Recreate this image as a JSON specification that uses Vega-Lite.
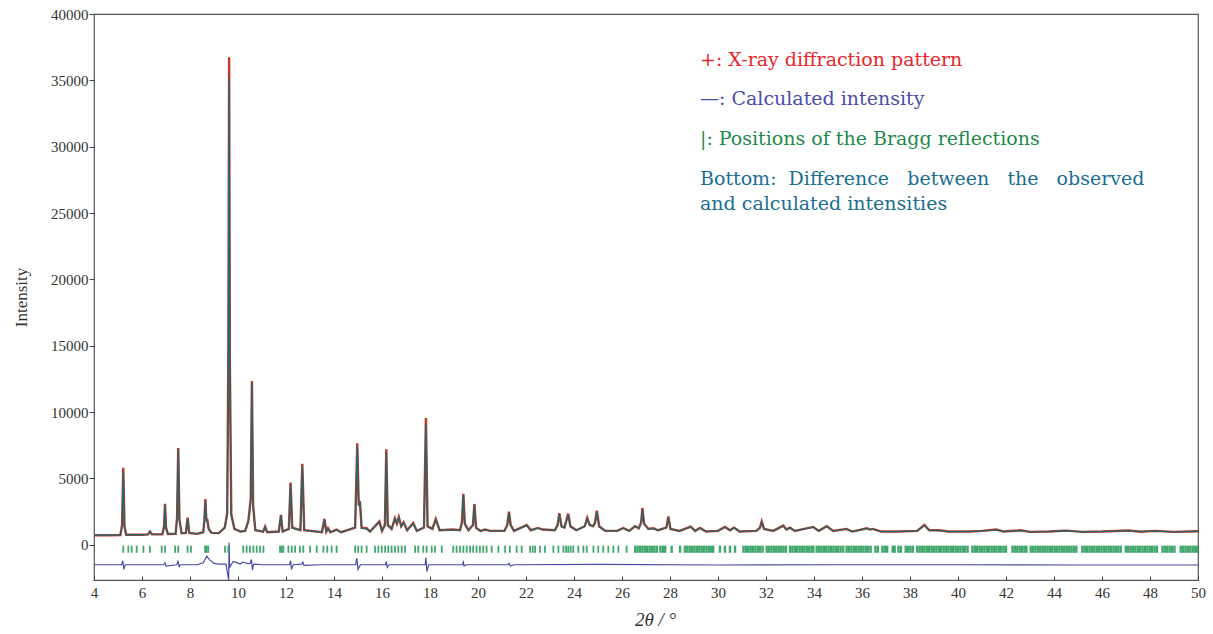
{
"$schema": "https://vega.github.io/schema/vega-lite/v6.json",
"width": 1104, "height": 566,
"autosize": {"type": "none"},
"padding": {"left": 94, "top": 14, "right": 15, "bottom": 54},
"background": "white",
"config": {"view": {"stroke": "#555", "strokeWidth": 1.2}, "font": "Liberation Serif"},
"datasets": {
"profile": [
{"t":4.0,"o":720,"c":720},{"t":4.6,"o":725,"c":725},{"t":5.10,"o":740,"c":740},{"t":5.17,"o":1500,"c":1450},{"t":5.22,"o":5800,"c":5500},{"t":5.27,"o":1400,"c":1350},{"t":5.34,"o":760,"c":760},{"t":5.6,"o":760,"c":760},{"t":6.0,"o":760,"c":760},{"t":6.25,"o":790,"c":790},{"t":6.33,"o":1000,"c":980},{"t":6.42,"o":790,"c":790},{"t":6.85,"o":800,"c":800},{"t":6.92,"o":1400,"c":1350},{"t":6.96,"o":3100,"c":3000},{"t":7.0,"o":1300,"c":1250},{"t":7.08,"o":820,"c":820},{"t":7.4,"o":830,"c":830},{"t":7.46,"o":2000,"c":1900},{"t":7.51,"o":7300,"c":7200},{"t":7.56,"o":1900,"c":1850},{"t":7.65,"o":870,"c":870},{"t":7.83,"o":900,"c":900},{"t":7.9,"o":2050,"c":2000},{"t":7.97,"o":900,"c":900},{"t":8.3,"o":830,"c":830},{"t":8.55,"o":950,"c":950},{"t":8.6,"o":1800,"c":1750},{"t":8.64,"o":3450,"c":3300},{"t":8.68,"o":1900,"c":1850},{"t":8.72,"o":1900,"c":1800},{"t":8.78,"o":1200,"c":1150},{"t":8.9,"o":900,"c":900},{"t":9.2,"o":880,"c":880},{"t":9.45,"o":1300,"c":1300},{"t":9.55,"o":2400,"c":2300},{"t":9.6,"o":15000,"c":14500},{"t":9.63,"o":36750,"c":35200},{"t":9.66,"o":14000,"c":13500},{"t":9.72,"o":2300,"c":2200},{"t":9.85,"o":1200,"c":1200},{"t":10.1,"o":1000,"c":1000},{"t":10.3,"o":1050,"c":1050},{"t":10.43,"o":1800,"c":1750},{"t":10.47,"o":2400,"c":2300},{"t":10.53,"o":3500,"c":3400},{"t":10.58,"o":12350,"c":12200},{"t":10.63,"o":3000,"c":2900},{"t":10.72,"o":1100,"c":1100},{"t":11.05,"o":1000,"c":1000},{"t":11.13,"o":1380,"c":1350},{"t":11.22,"o":950,"c":950},{"t":11.7,"o":1000,"c":1000},{"t":11.79,"o":2260,"c":2200},{"t":11.86,"o":1000,"c":1000},{"t":12.12,"o":1200,"c":1200},{"t":12.19,"o":4700,"c":4550},{"t":12.26,"o":1300,"c":1250},{"t":12.6,"o":1100,"c":1100},{"t":12.68,"o":6100,"c":5950},{"t":12.76,"o":1100,"c":1100},{"t":13.5,"o":950,"c":950},{"t":13.6,"o":1950,"c":1900},{"t":13.68,"o":1000,"c":1000},{"t":13.75,"o":1250,"c":1200},{"t":13.85,"o":950,"c":950},{"t":14.1,"o":1150,"c":1100},{"t":14.3,"o":950,"c":950},{"t":14.88,"o":1300,"c":1300},{"t":14.97,"o":7650,"c":7450},{"t":15.03,"o":3000,"c":2900},{"t":15.08,"o":3300,"c":3200},{"t":15.15,"o":1300,"c":1250},{"t":15.36,"o":1250,"c":1200},{"t":15.5,"o":1000,"c":1000},{"t":15.89,"o":1760,"c":1700},{"t":16.0,"o":1050,"c":1050},{"t":16.12,"o":1500,"c":1450},{"t":16.18,"o":7200,"c":7000},{"t":16.24,"o":1500,"c":1450},{"t":16.4,"o":1200,"c":1200},{"t":16.54,"o":2000,"c":1950},{"t":16.62,"o":1600,"c":1600},{"t":16.7,"o":2100,"c":2050},{"t":16.8,"o":1400,"c":1400},{"t":16.9,"o":1700,"c":1650},{"t":17.05,"o":1100,"c":1100},{"t":17.3,"o":1650,"c":1600},{"t":17.45,"o":1050,"c":1050},{"t":17.75,"o":1300,"c":1300},{"t":17.83,"o":9550,"c":9100},{"t":17.9,"o":1400,"c":1350},{"t":18.1,"o":1200,"c":1200},{"t":18.24,"o":1950,"c":1900},{"t":18.4,"o":1100,"c":1100},{"t":18.96,"o":1150,"c":1120},{"t":19.25,"o":1100,"c":1100},{"t":19.33,"o":1700,"c":1650},{"t":19.39,"o":3840,"c":3750},{"t":19.45,"o":1600,"c":1550},{"t":19.6,"o":1100,"c":1100},{"t":19.79,"o":1500,"c":1450},{"t":19.85,"o":3080,"c":3000},{"t":19.92,"o":1300,"c":1250},{"t":20.1,"o":1050,"c":1050},{"t":20.3,"o":1150,"c":1150},{"t":20.5,"o":1050,"c":1050},{"t":21.1,"o":1050,"c":1050},{"t":21.22,"o":1500,"c":1450},{"t":21.29,"o":2500,"c":2400},{"t":21.36,"o":1500,"c":1450},{"t":21.5,"o":1050,"c":1050},{"t":22.03,"o":1500,"c":1450},{"t":22.2,"o":1100,"c":1100},{"t":22.5,"o":1270,"c":1250},{"t":22.7,"o":1150,"c":1150},{"t":23.2,"o":1100,"c":1100},{"t":23.32,"o":1500,"c":1450},{"t":23.39,"o":2390,"c":2300},{"t":23.48,"o":1400,"c":1350},{"t":23.6,"o":1300,"c":1300},{"t":23.76,"o":2350,"c":2250},{"t":23.85,"o":1400,"c":1350},{"t":24.1,"o":1100,"c":1100},{"t":24.45,"o":1400,"c":1400},{"t":24.55,"o":2030,"c":1950},{"t":24.65,"o":1500,"c":1500},{"t":24.8,"o":1400,"c":1400},{"t":24.88,"o":1700,"c":1650},{"t":24.95,"o":2580,"c":2450},{"t":25.05,"o":1400,"c":1350},{"t":25.3,"o":1050,"c":1050},{"t":25.8,"o":1050,"c":1050},{"t":26.05,"o":1270,"c":1250},{"t":26.3,"o":1050,"c":1050},{"t":26.54,"o":1400,"c":1380},{"t":26.7,"o":1250,"c":1250},{"t":26.8,"o":1700,"c":1650},{"t":26.85,"o":2760,"c":2650},{"t":26.92,"o":1600,"c":1550},{"t":27.1,"o":1200,"c":1200},{"t":27.3,"o":1250,"c":1220},{"t":27.5,"o":1100,"c":1100},{"t":27.85,"o":1300,"c":1300},{"t":27.93,"o":2130,"c":2050},{"t":28.02,"o":1200,"c":1200},{"t":28.4,"o":1050,"c":1050},{"t":28.86,"o":1370,"c":1350},{"t":29.05,"o":1050,"c":1050},{"t":29.25,"o":1270,"c":1250},{"t":29.5,"o":1000,"c":1000},{"t":30.0,"o":1050,"c":1050},{"t":30.29,"o":1350,"c":1330},{"t":30.5,"o":1100,"c":1100},{"t":30.67,"o":1300,"c":1280},{"t":30.9,"o":1000,"c":1000},{"t":31.6,"o":1050,"c":1050},{"t":31.75,"o":1300,"c":1300},{"t":31.82,"o":1760,"c":1700},{"t":31.92,"o":1200,"c":1200},{"t":32.3,"o":1050,"c":1050},{"t":32.72,"o":1450,"c":1420},{"t":32.85,"o":1150,"c":1150},{"t":33.0,"o":1300,"c":1280},{"t":33.2,"o":1050,"c":1050},{"t":33.97,"o":1350,"c":1330},{"t":34.2,"o":1050,"c":1050},{"t":34.53,"o":1400,"c":1380},{"t":34.8,"o":1050,"c":1050},{"t":35.35,"o":1200,"c":1180},{"t":35.6,"o":1000,"c":1000},{"t":36.2,"o":1250,"c":1230},{"t":36.33,"o":1150,"c":1150},{"t":36.45,"o":1200,"c":1180},{"t":36.8,"o":1000,"c":1000},{"t":37.5,"o":1000,"c":1000},{"t":38.3,"o":1050,"c":1050},{"t":38.6,"o":1500,"c":1450},{"t":38.8,"o":1100,"c":1100},{"t":39.2,"o":1100,"c":1080},{"t":39.6,"o":1000,"c":1000},{"t":40.5,"o":1000,"c":1000},{"t":41.0,"o":1050,"c":1050},{"t":41.6,"o":1150,"c":1130},{"t":41.9,"o":1000,"c":1000},{"t":42.6,"o":1100,"c":1080},{"t":43.0,"o":980,"c":980},{"t":43.8,"o":1000,"c":1000},{"t":44.5,"o":1070,"c":1060},{"t":45.2,"o":980,"c":980},{"t":46.0,"o":1000,"c":1000},{"t":47.1,"o":1080,"c":1070},{"t":47.6,"o":990,"c":990},{"t":48.2,"o":1050,"c":1040},{"t":49.0,"o":980,"c":980},{"t":50.0,"o":1020,"c":1020}
],
"diff": [
{"t":4.0,"d":-1500},{"t":5.15,"d":-1500},{"t":5.2,"d":-1200},{"t":5.24,"d":-1850},{"t":5.3,"d":-1500},{"t":6.9,"d":-1500},{"t":6.96,"d":-1350},{"t":7.0,"d":-1600},{"t":7.45,"d":-1500},{"t":7.5,"d":-1250},{"t":7.55,"d":-1650},{"t":7.6,"d":-1500},{"t":8.3,"d":-1500},{"t":8.55,"d":-1350},{"t":8.7,"d":-850},{"t":8.8,"d":-1100},{"t":9.0,"d":-1400},{"t":9.2,"d":-1450},{"t":9.5,"d":-1450},{"t":9.61,"d":-2640},{"t":9.63,"d":150},{"t":9.65,"d":-1700},{"t":9.75,"d":-1400},{"t":9.8,"d":-1250},{"t":9.9,"d":-1300},{"t":10.0,"d":-1380},{"t":10.1,"d":-1450},{"t":10.2,"d":-1300},{"t":10.3,"d":-1350},{"t":10.4,"d":-1420},{"t":10.5,"d":-1400},{"t":10.56,"d":-1100},{"t":10.6,"d":-1900},{"t":10.65,"d":-1450},{"t":11.0,"d":-1500},{"t":12.15,"d":-1500},{"t":12.19,"d":-1200},{"t":12.23,"d":-1850},{"t":12.3,"d":-1500},{"t":12.65,"d":-1450},{"t":12.7,"d":-1300},{"t":12.75,"d":-1550},{"t":13.5,"d":-1500},{"t":14.9,"d":-1500},{"t":14.95,"d":-1000},{"t":15.0,"d":-1850},{"t":15.1,"d":-1500},{"t":16.15,"d":-1500},{"t":16.18,"d":-1250},{"t":16.22,"d":-1700},{"t":16.3,"d":-1500},{"t":17.8,"d":-1500},{"t":17.83,"d":-950},{"t":17.87,"d":-2000},{"t":17.95,"d":-1500},{"t":19.35,"d":-1500},{"t":19.39,"d":-1300},{"t":19.42,"d":-1600},{"t":19.5,"d":-1500},{"t":21.25,"d":-1500},{"t":21.3,"d":-1400},{"t":21.35,"d":-1600},{"t":21.5,"d":-1500},{"t":25,"d":-1480},{"t":30,"d":-1520},{"t":35,"d":-1500},{"t":40,"d":-1500},{"t":45,"d":-1520},{"t":50,"d":-1520}
],
"bragg": [
{"t":5.22},{"t":5.43},{"t":5.57},{"t":5.78},{"t":6.06},{"t":6.33},{"t":6.82},{"t":6.96},{"t":7.38},{"t":7.51},{"t":7.9},{"t":8.04},{"t":8.63},{"t":8.69},{"t":8.76},{"t":9.46},{"t":9.6},{"t":10.22},{"t":10.36},{"t":10.5},{"t":10.64},{"t":10.78},{"t":10.92},{"t":11.06},{"t":11.75},{"t":11.82},{"t":11.89},{"t":12.1},{"t":12.24},{"t":12.38},{"t":12.58},{"t":12.72},{"t":13.0},{"t":13.28},{"t":13.56},{"t":13.72},{"t":13.9},{"t":14.11},{"t":14.88},{"t":15.01},{"t":15.15},{"t":15.36},{"t":15.71},{"t":15.85},{"t":15.99},{"t":16.13},{"t":16.26},{"t":16.4},{"t":16.54},{"t":16.68},{"t":16.82},{"t":16.96},{"t":17.38},{"t":17.51},{"t":17.72},{"t":17.86},{"t":18.07},{"t":18.21},{"t":18.49},{"t":18.97},{"t":19.11},{"t":19.25},{"t":19.39},{"t":19.53},{"t":19.67},{"t":19.8},{"t":19.94},{"t":20.08},{"t":20.22},{"t":20.36},{"t":20.57},{"t":20.85},{"t":21.13},{"t":21.33},{"t":21.61},{"t":21.82},{"t":22.17},{"t":22.28},{"t":22.38},{"t":22.58},{"t":22.79},{"t":23.14},{"t":23.35},{"t":23.56},{"t":23.67},{"t":23.76},{"t":23.86},{"t":23.97},{"t":24.18},{"t":24.39},{"t":24.53},{"t":24.81},{"t":25.01},{"t":25.22},{"t":25.43},{"t":25.64},{"t":25.85},{"t":26.19}
],
"braggDense": [
{"t":26.55},{"t":26.65},{"t":26.75},{"t":26.85},{"t":26.95},{"t":27.05},{"t":27.15},{"t":27.25},{"t":27.35},{"t":27.45},{"t":27.6},{"t":27.7},{"t":27.8},{"t":28.07},{"t":28.42},{"t":28.62},{"t":28.72},{"t":28.82},{"t":28.92},{"t":29.02},{"t":29.12},{"t":29.22},{"t":29.32},{"t":29.42},{"t":29.52},{"t":29.62},{"t":29.72},{"t":29.8},{"t":30.08},{"t":30.29},{"t":30.5},{"t":30.71},{"t":31.06},{"t":31.16},{"t":31.26},{"t":31.36},{"t":31.46},{"t":31.56},{"t":31.66},{"t":31.76},{"t":31.86},{"t":32.03},{"t":32.13},{"t":32.23},{"t":32.33},{"t":32.43},{"t":32.53},{"t":32.63},{"t":32.73},{"t":32.83},{"t":33.0},{"t":33.1},{"t":33.2},{"t":33.3},{"t":33.4},{"t":33.5},{"t":33.6},{"t":33.7},{"t":33.8},{"t":33.9},{"t":33.97},{"t":34.11},{"t":34.21},{"t":34.31},{"t":34.41},{"t":34.51},{"t":34.61},{"t":34.71},{"t":34.81},{"t":34.91},{"t":35.01},{"t":35.11},{"t":35.22},{"t":35.36},{"t":35.46},{"t":35.56},{"t":35.66},{"t":35.76},{"t":35.86},{"t":35.96},{"t":36.06},{"t":36.16},{"t":36.26},{"t":36.36},{"t":36.56},{"t":36.66},{"t":36.85},{"t":36.95},{"t":37.05},{"t":37.28},{"t":37.36},{"t":37.52},{"t":37.62},{"t":37.82},{"t":37.92},{"t":38.02},{"t":38.12},
{"t":38.3},{"t":38.4},{"t":38.5},{"t":38.6},{"t":38.7},{"t":38.8},{"t":38.9},{"t":39.0},{"t":39.1},{"t":39.2},{"t":39.3},{"t":39.4},{"t":39.5},{"t":39.6},{"t":39.7},{"t":39.8},{"t":39.9},{"t":40.0},{"t":40.1},{"t":40.2},{"t":40.3},{"t":40.4},{"t":40.6},{"t":40.7},{"t":40.8},{"t":40.9},{"t":41.0},{"t":41.1},{"t":41.2},{"t":41.3},{"t":41.4},{"t":41.5},{"t":41.6},{"t":41.7},{"t":41.8},{"t":41.9},{"t":42.0},{"t":42.27},{"t":42.37},{"t":42.47},{"t":42.57},{"t":42.67},{"t":42.77},{"t":42.85},{"t":43.03},{"t":43.13},{"t":43.23},{"t":43.33},{"t":43.43},{"t":43.53},{"t":43.63},{"t":43.73},{"t":43.83},{"t":43.93},{"t":44.03},{"t":44.13},{"t":44.23},{"t":44.33},{"t":44.43},{"t":44.53},{"t":44.63},{"t":44.73},{"t":44.83},{"t":44.93},{"t":45.18},{"t":45.28},{"t":45.38},{"t":45.48},{"t":45.58},{"t":45.68},{"t":45.78},{"t":45.88},{"t":45.98},{"t":46.08},{"t":46.18},{"t":46.28},{"t":46.38},{"t":46.48},{"t":46.58},{"t":46.68},{"t":46.78},{"t":46.99},{"t":47.09},{"t":47.19},{"t":47.29},{"t":47.39},{"t":47.49},{"t":47.59},{"t":47.69},{"t":47.79},{"t":47.89},{"t":47.99},{"t":48.09},{"t":48.19},{"t":48.29},{"t":48.52},{"t":48.62},{"t":48.72},{"t":48.82},{"t":48.92},{"t":49.02},{"t":49.28},{"t":49.38},{"t":49.48},{"t":49.58},{"t":49.68},{"t":49.78},{"t":49.88},{"t":49.97}
]
},
"layer": [
{
"data": {"name": "profile"},
"mark": {"type": "line", "color": "#c0392b", "strokeWidth": 2.4},
"encoding": {
"x": {"field": "t", "type": "quantitative", "scale": {"domain": [4, 50], "nice": false, "zero": false},
"axis": {"values": [4,6,8,10,12,14,16,18,20,22,24,26,28,30,32,34,36,38,40,42,44,46,48,50], "title": "2θ / °", "titleFont": "Liberation Serif", "titleFontStyle": "italic", "titleFontWeight": "normal", "titleFontSize": 19, "titleColor": "#333", "titleX": 561, "titlePadding": 10, "labelFont": "Liberation Serif", "labelFontSize": 15, "labelColor": "#333", "labelFlush": false, "labelOverlap": false, "tickSize": -4, "tickColor": "#444", "labelPadding": 9, "domain": false, "grid": false}},
"y": {"field": "o", "type": "quantitative", "scale": {"domain": [-2650, 40000], "nice": false, "zero": false},
"axis": {"values": [0,5000,10000,15000,20000,25000,30000,35000,40000], "format": "d", "title": "Intensity", "titleFont": "Liberation Serif", "titleFontWeight": "normal", "titleFontSize": 17, "titleColor": "#333", "titlePadding": 20, "labelFont": "Liberation Serif", "labelFontSize": 15, "labelColor": "#333", "labelFlush": false, "labelOverlap": false, "tickSize": 5, "tickColor": "#444", "labelPadding": 1, "domain": false, "grid": false}}
}
},
{
"data": {"name": "profile"},
"mark": {"type": "line", "color": "#22686a", "strokeWidth": 1.3},
"encoding": {
"x": {"field": "t", "type": "quantitative"},
"y": {"field": "c", "type": "quantitative"}
}
},
{
"data": {"name": "diff"},
"mark": {"type": "line", "color": "#4a4aa8", "strokeWidth": 1.2},
"encoding": {
"x": {"field": "t", "type": "quantitative"},
"y": {"field": "d", "type": "quantitative"}
}
},
{
"data": {"name": "bragg"},
"mark": {"type": "rule", "color": "#2e9e5e", "strokeWidth": 1.8, "opacity": 0.9},
"encoding": {
"x": {"field": "t", "type": "quantitative"},
"y": {"datum": -60},
"y2": {"datum": -600}
}
},
{
"data": {"name": "braggDense"},
"mark": {"type": "rule", "color": "#2e9e5e", "strokeWidth": 2.4, "opacity": 0.9},
"encoding": {
"x": {"field": "t", "type": "quantitative"},
"y": {"datum": -60},
"y2": {"datum": -600}
}
},
{
"data": {"values": [{}]},
"mark": {"type": "text", "font": "DejaVu Serif", "fontSize": 19, "align": "left", "baseline": "middle", "color": "#e8262c", "text": "+:\u00a0X-ray diffraction pattern"},
"encoding": {"x": {"datum": 29.25}, "y": {"datum": 36545}}
},
{
"data": {"values": [{}]},
"mark": {"type": "text", "font": "DejaVu Serif", "fontSize": 19, "align": "left", "baseline": "middle", "color": "#4d4da8", "text": "—:\u00a0Calculated intensity"},
"encoding": {"x": {"datum": 29.25}, "y": {"datum": 33606}}
},
{
"data": {"values": [{}]},
"mark": {"type": "text", "font": "DejaVu Serif", "fontSize": 19, "align": "left", "baseline": "middle", "color": "#1f8a4c", "text": "|:\u00a0Positions of the Bragg reflections"},
"encoding": {"x": {"datum": 29.25}, "y": {"datum": 30592}}
},
{
"data": {"values": [{}]},
"mark": {"type": "text", "font": "DejaVu Serif", "fontSize": 19, "align": "left", "baseline": "middle", "color": "#1b6e91", "text": "Bottom:\u00a0\u00a0Difference\u00a0\u00a0\u00a0between\u00a0\u00a0\u00a0the\u00a0\u00a0\u00a0observed"},
"encoding": {"x": {"datum": 29.25}, "y": {"datum": 27578}}
},
{
"data": {"values": [{}]},
"mark": {"type": "text", "font": "DejaVu Serif", "fontSize": 19, "align": "left", "baseline": "middle", "color": "#1b6e91", "text": "and calculated intensities"},
"encoding": {"x": {"datum": 29.25}, "y": {"datum": 25695}}
}
]
}
